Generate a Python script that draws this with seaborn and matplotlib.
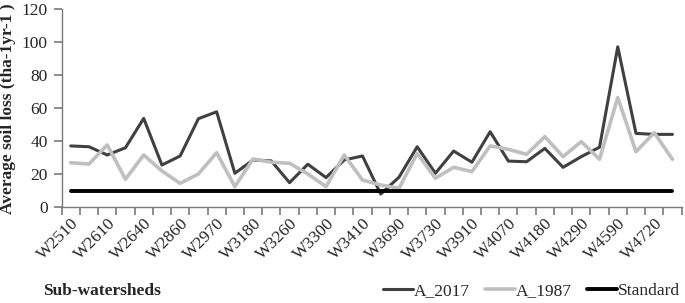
import numpy as np
import matplotlib
matplotlib.use('Agg')
import matplotlib.pyplot as plt
import seaborn as sns

# tick labels shown on the axis (every second sub-watershed)
tick_labels = ['W2510', 'W2610', 'W2640', 'W2860', 'W2970', 'W3180', 'W3260', 'W3300',
               'W3410', 'W3690', 'W3730', 'W3910', 'W4070', 'W4180', 'W4290', 'W4590', 'W4720']

a_2017 = [37.2, 36.7, 31.7, 36.1, 53.9, 25.6, 31.1, 53.7, 57.9, 20.6, 28.7, 28.1, 14.9,
          26.1, 18.0, 28.7, 31.1, 8.0, 18.2, 36.7, 20.6, 34.1, 27.3, 45.8, 28.0, 27.6,
          35.7, 24.2, 30.7, 36.4, 97.3, 44.8, 44.2, 44.2]
a_1987 = [27.0, 26.2, 37.8, 17.0, 31.7, 22.0, 14.5, 20.2, 33.1, 12.5, 29.3, 27.3, 26.7,
          20.2, 12.5, 31.7, 16.5, 13.5, 11.5, 32.7, 17.6, 24.2, 21.6, 37.2, 35.1, 32.1,
          42.8, 30.7, 39.8, 29.1, 66.6, 33.7, 45.2, 29.1]
standard = [10] * len(a_2017)

sns.set_style('ticks')
plt.rcParams['font.family'] = ['Liberation Serif', 'DejaVu Serif']
plt.rcParams['font.size'] = 12.5

idx = np.arange(len(a_2017))

fig = plt.figure(figsize=(6.85, 3.03), dpi=100)
ax = fig.add_axes([0.090, 0.316, 0.905, 0.653])

sns.lineplot(x=idx, y=a_2017, color='#404040', linewidth=2.2, label='A_2017', ax=ax)
sns.lineplot(x=idx, y=a_1987, color='#bfbfbf', linewidth=2.6, label='A_1987', ax=ax)
sns.lineplot(x=idx, y=standard, color='black', linewidth=2.8, label='Standard', ax=ax)

ax.set_xlim(-0.5, len(a_2017) - 0.5)
ax.set_ylim(0, 120)
ax.set_yticks(range(0, 121, 20))
ax.set_xticks(idx[::2])
ax.set_xticklabels(tick_labels, rotation=45, ha='right', rotation_mode='anchor')
ax.set_xticks(np.arange(-0.5, len(a_2017), 1), minor=True)

for s in ['top', 'right']:
    ax.spines[s].set_visible(False)
for s in ['left', 'bottom']:
    ax.spines[s].set_color('#7a7a7a')
    ax.spines[s].set_linewidth(1.0)

# category boundary ticks, as in a spreadsheet chart
ax.tick_params(axis='x', which='major', length=0, pad=6)
ax.tick_params(axis='x', which='minor', bottom=True, length=6, width=1.2,
               color='#7a7a7a', direction='out')
ax.tick_params(axis='y', which='major', left=True, length=6, width=1.2,
               color='#7a7a7a', direction='out', pad=4)

ax.set_ylabel('Average soil loss (tha-1yr-1 )', fontweight='bold', fontsize=12.5, labelpad=4)
ax.set_xlabel('')

ax.get_legend().remove()
handles, labels = ax.get_legend_handles_labels()
fig.legend(handles, labels, loc='center right', bbox_to_anchor=(1.015, 0.04), ncol=3,
           frameon=False, handlelength=1.7, handletextpad=0.05, columnspacing=0.9,
           fontsize=12.5)

fig.text(0.063, 0.04, 'Sub-watersheds', fontweight='bold', fontsize=12.5, va='center')

fig.savefig('out.png', dpi=100)
